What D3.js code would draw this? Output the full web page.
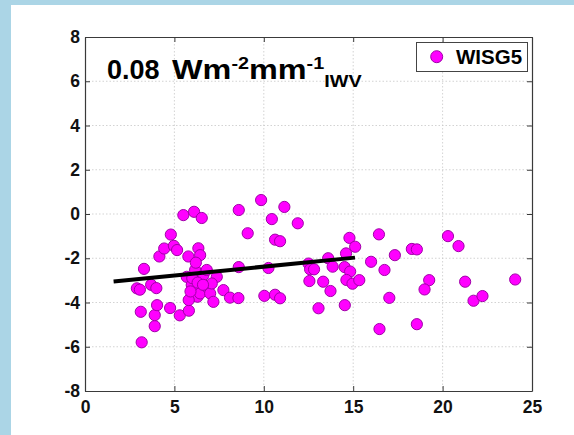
<!DOCTYPE html>
<html>
<head>
<meta charset="utf-8">
<script src="https://cdn.jsdelivr.net/npm/d3@7"></script>
<style>
  html, body { margin: 0; padding: 0; background: #abd5e6; }
  svg { display: block; }
</style>
</head>
<body>
<svg id="chart" width="574" height="435"></svg>
<script>
// IWV (mm) values of each station-day
const iwv = [
  3.17, 3.9, 3.12, 3.9, 4.03, 4.76, 5.3, 5.81, 2.9, 3.07,
  3.7, 3.99, 3.3, 4.16, 4.43, 4.97, 5.15, 4.8, 5.5, 6.1,
  6.53, 5.78, 6.34, 6.44, 5.69, 5.97, 6.25, 6.16, 6.44, 6.62,
  6.81, 6.29, 6.44, 6.9, 7.0, 7.18, 7.37, 7.09, 7.74, 8.11,
  8.58, 8.6, 8.6, 9.1, 9.85, 5.8, 6.0, 6.3, 5.9, 6.6,
  6.2, 11.15, 10.45, 11.9, 10.63, 10.91, 10.26, 10.03, 10.63, 10.91,
  12.5, 12.59, 12.81, 13.6, 13.85, 14.79, 15.11, 14.6, 14.52, 14.83,
  12.55, 13.32, 13.73, 14.62, 14.96, 15.34, 13.06, 14.53, 16.44, 16.0,
  16.75, 17.33, 18.28, 18.56, 19.25, 18.99, 17.02, 16.47, 18.56, 20.3,
  20.89, 21.26, 21.73, 22.23, 24.06
];
// Radiative forcing anomaly (W m^-2) paired with iwv
const forcing = [
  -5.8, -5.07, -4.42, -4.57, -4.12, -4.25, -4.58, -4.37, -3.36, -3.42,
  -3.2, -3.35, -2.48, -1.92, -1.56, -1.44, -1.63, -0.93, -0.05, 0.1,
  -0.18, -1.92, -1.55, -1.86, -2.84, -3.21, -3.44, -2.53, -2.99, -2.76,
  -2.53, -3.74, -3.59, -3.36, -3.59, -3.97, -2.84, -3.14, -3.44, -3.78,
  -3.8, -2.4, 0.18, -0.87, 0.63, -3.89, -2.9, -3.1, -3.5, -3.2,
  -2.2, 0.32, -0.23, -0.42, -1.16, -1.23, -2.44, -3.7, -3.65, -3.81,
  -2.24, -2.5, -2.5, -2.0, -2.38, -1.08, -1.48, -1.78, -2.4, -2.6,
  -3.03, -3.06, -3.48, -2.98, -3.15, -2.99, -4.26, -4.12, -0.92, -2.16,
  -2.53, -1.86, -1.58, -1.6, -2.99, -3.41, -3.79, -5.2, -4.98, -1.0,
  -1.45, -3.06, -3.92, -3.71, -2.96
];
// Linear fit: slope 0.08 W m^-2 per mm, over the fitted IWV range
const fitSlope = 0.08;
const fitIntercept = -3.18;
const fitRange = [1.6, 15.1];

const xTicks = [0, 5, 10, 15, 20, 25];
const yTicks = [-8, -6, -4, -2, 0, 2, 4, 6, 8];
const seriesName = "WISG5";

const svg = d3.select("#chart");
const font = "'Liberation Sans', Arial, sans-serif";
const plain = d => String(d);   // ASCII hyphen for negatives

// white panel inside the blue frame
svg.append("rect").attr("x", 11).attr("y", 5).attr("width", 563).attr("height", 430).attr("fill", "#ffffff");

const L = 85, R = 532, T = 37, B = 391;
const x = d3.scaleLinear().domain([0, 25]).range([L, R]);
const y = d3.scaleLinear().domain([-8, 8]).range([B, T]);

// dotted grid
const grid = svg.append("g");
grid.selectAll("line.gx").data(xTicks.slice(1, -1)).enter().append("line")
  .attr("x1", d => x(d)).attr("x2", d => x(d)).attr("y1", T).attr("y2", B)
  .attr("stroke", "#c8c8c8").attr("stroke-width", 0.8).attr("stroke-dasharray", "1.5,2");
grid.selectAll("line.gy").data(yTicks.slice(1, -1)).enter().append("line")
  .attr("y1", d => y(d)).attr("y2", d => y(d)).attr("x1", L).attr("x2", R)
  .attr("stroke", "#c8c8c8").attr("stroke-width", 0.8).attr("stroke-dasharray", "1.5,2");

// axes with inward ticks on all four sides
const axisColor = "#3a3a3a";
function styleAxis(g) {
  g.selectAll("path").attr("stroke", axisColor).attr("stroke-width", 1.2);
  g.selectAll(".tick line").attr("stroke", axisColor).attr("stroke-width", 1);
}
const xb = svg.append("g").attr("transform", `translate(0,${B})`)
  .call(d3.axisBottom(x).tickValues(xTicks).tickFormat(plain).tickSizeInner(-5).tickSizeOuter(0).tickPadding(9));
styleAxis(xb);
xb.selectAll("text").attr("font-family", font).attr("font-weight", "bold")
  .attr("font-size", 17.5).attr("fill", "#111").attr("dy", "0.72em");
const yl = svg.append("g").attr("transform", `translate(${L},0)`)
  .call(d3.axisLeft(y).tickValues(yTicks).tickFormat(plain).tickSizeInner(-5).tickSizeOuter(0).tickPadding(5));
styleAxis(yl);
yl.selectAll("text").attr("font-family", font).attr("font-weight", "bold")
  .attr("font-size", 17.5).attr("fill", "#111");
const xt = svg.append("g").attr("transform", `translate(0,${T})`)
  .call(d3.axisTop(x).tickValues(xTicks).tickSizeInner(-5).tickSizeOuter(0).tickFormat(""));
styleAxis(xt);
const yr = svg.append("g").attr("transform", `translate(${R},0)`)
  .call(d3.axisRight(y).tickValues(yTicks).tickSizeInner(-5).tickSizeOuter(0).tickFormat(""));
styleAxis(yr);

// scatter points
const pts = iwv.map((v, i) => ({ x: v, y: forcing[i] }));
svg.append("g").selectAll("circle").data(pts).enter().append("circle")
  .attr("cx", d => x(d.x)).attr("cy", d => y(d.y)).attr("r", 5.6)
  .attr("fill", "#ff00ff").attr("stroke", "#a000a8").attr("stroke-width", 1);

// regression line
svg.append("line")
  .attr("x1", x(fitRange[0])).attr("y1", y(fitIntercept + fitSlope * fitRange[0]))
  .attr("x2", x(fitRange[1])).attr("y2", y(fitIntercept + fitSlope * fitRange[1]))
  .attr("stroke", "#000").attr("stroke-width", 4);

// slope annotation: number, then the wide unit string
svg.append("text").attr("x", 107).attr("y", 79)
  .attr("font-family", font).attr("font-weight", "bold").attr("font-size", 27).attr("fill", "#000")
  .text(fitSlope.toFixed(2));
const unit = svg.append("text").attr("transform", "translate(172,79) scale(1.2,1)")
  .attr("font-family", font).attr("font-weight", "bold").attr("font-size", 27).attr("fill", "#000");
unit.append("tspan").text("Wm");
unit.append("tspan").attr("font-size", 16.5).attr("dy", -10).text("-2");
unit.append("tspan").attr("dy", 10).text("mm");
unit.append("tspan").attr("font-size", 16.5).attr("dy", -10).text("-1");
unit.append("tspan").attr("font-size", 16.5).attr("dy", 18).text("IWV");

// legend
const lg = svg.append("g");
lg.append("rect").attr("x", 416.5).attr("y", 42.5).attr("width", 111).attr("height", 29)
  .attr("fill", "#fff").attr("stroke", "#444").attr("stroke-width", 1);
lg.append("circle").attr("cx", 436.7).attr("cy", 56.7).attr("r", 6)
  .attr("fill", "#ff00ff").attr("stroke", "#a000a8").attr("stroke-width", 1);
lg.append("text").attr("x", 456).attr("y", 64.3).attr("font-family", font)
  .attr("font-weight", "bold").attr("font-size", 20.5).attr("fill", "#000").text(seriesName);
</script>
</body>
</html>
